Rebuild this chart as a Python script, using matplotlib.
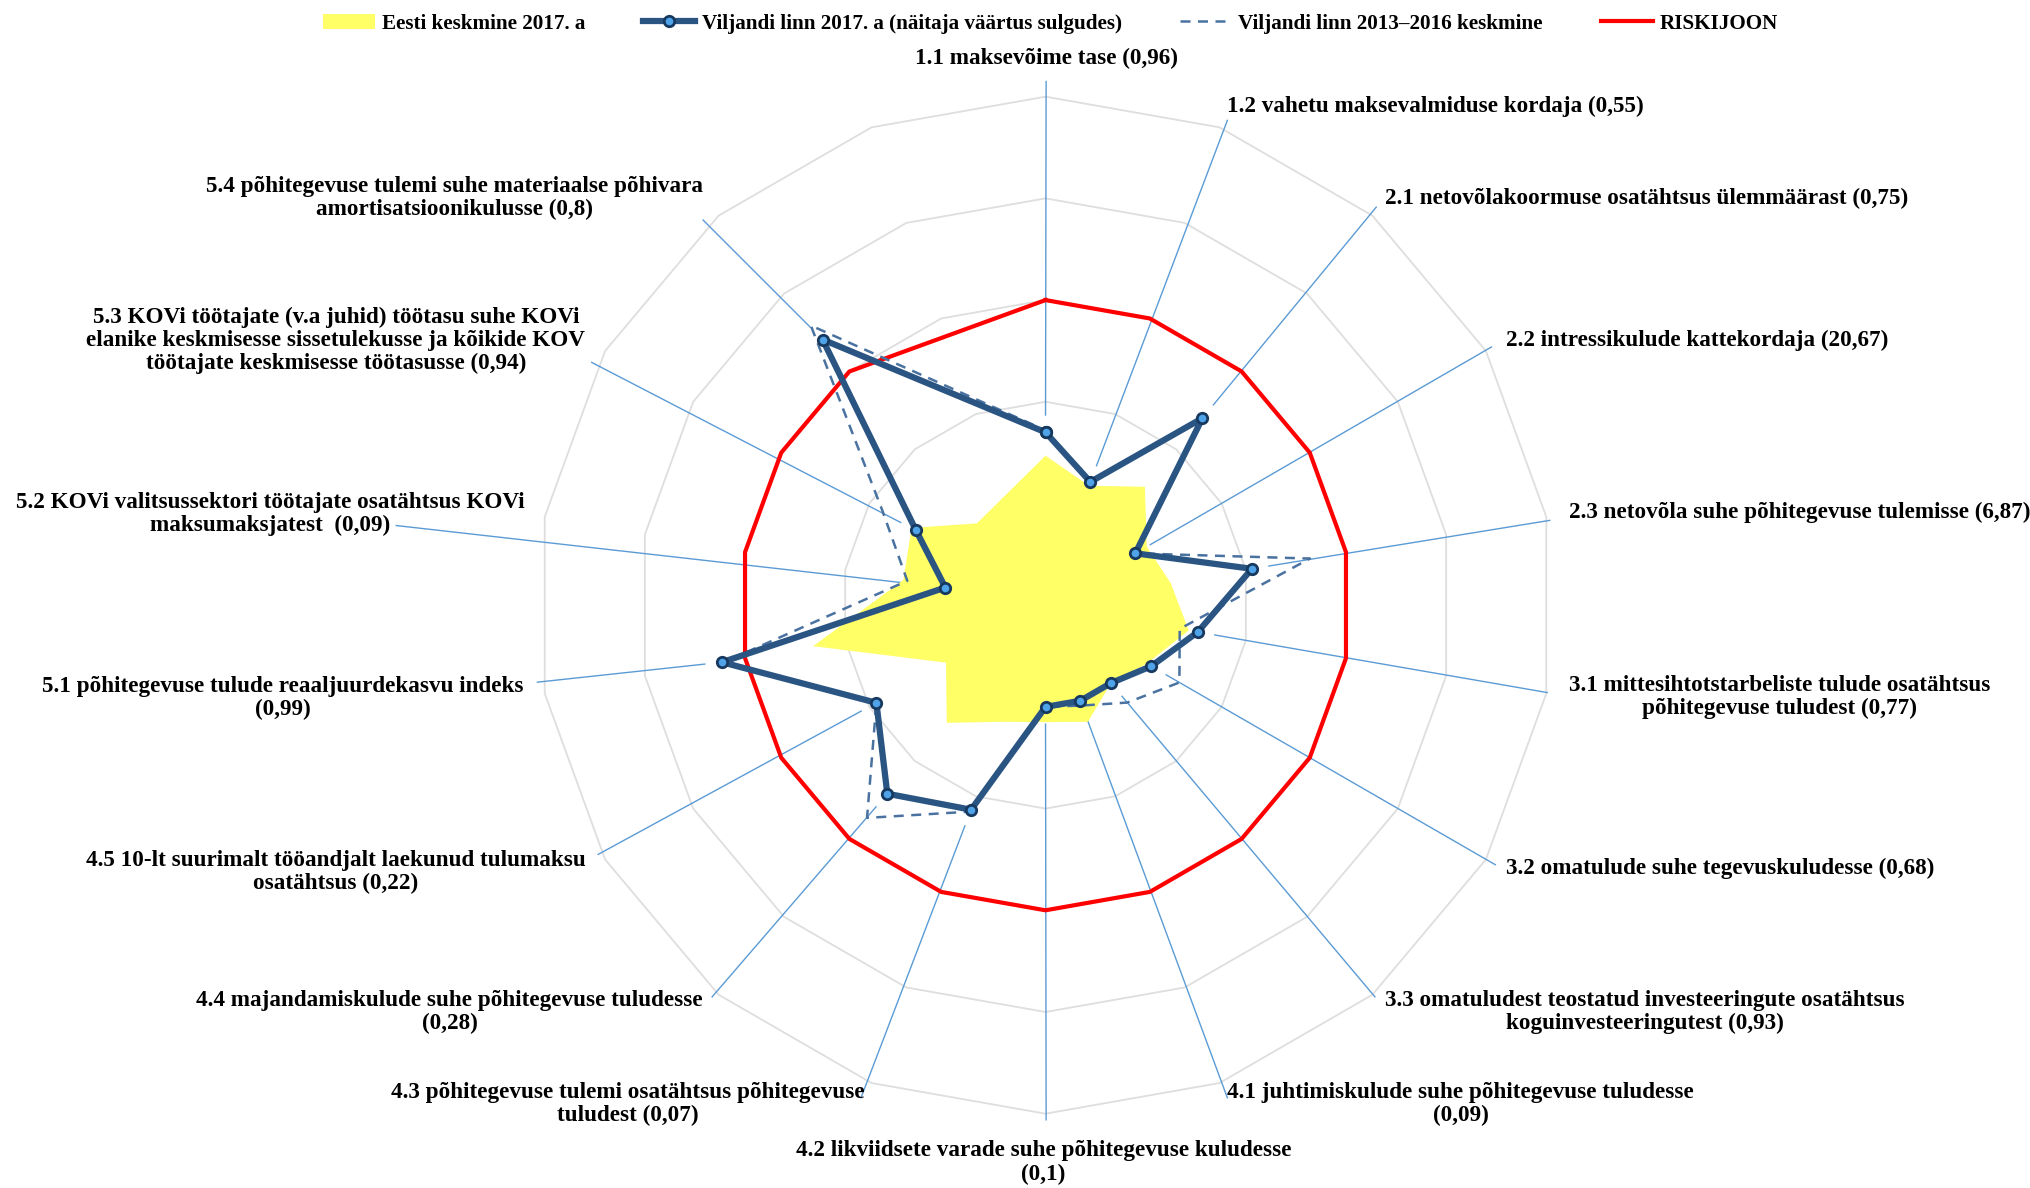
import numpy as np
import matplotlib
matplotlib.use("Agg")
import matplotlib.pyplot as plt
from matplotlib.patches import Patch
from matplotlib.lines import Line2D

plt.rcParams['font.family'] = ['Liberation Serif', 'DejaVu Serif']

# categories (18th slot is empty in the source chart)
labels = [
    "1.1 maksevõime tase (0,96)",
    "1.2 vahetu maksevalmiduse kordaja (0,55)",
    "2.1 netovõlakoormuse osatähtsus ülemmäärast (0,75)",
    "2.2 intressikulude kattekordaja (20,67)",
    "2.3 netovõla suhe põhitegevuse tulemisse (6,87)",
    "3.1 mittesihtotstarbeliste tulude osatähtsus\npõhitegevuse tuludest (0,77)",
    "3.2 omatulude suhe tegevuskuludesse (0,68)",
    "3.3 omatuludest teostatud investeeringute osatähtsus\nkoguinvesteeringutest (0,93)",
    "4.1 juhtimiskulude suhe põhitegevuse tuludesse\n(0,09)",
    "4.2 likviidsete varade suhe põhitegevuse kuludesse\n(0,1)",
    "4.3 põhitegevuse tulemi osatähtsus põhitegevuse\ntuludest (0,07)",
    "4.4 majandamiskulude suhe põhitegevuse tuludesse\n(0,28)",
    "4.5 10-lt suurimalt tööandjalt laekunud tulumaksu\nosatähtsus (0,22)",
    "5.1 põhitegevuse tulude reaaljuurdekasvu indeks\n(0,99)",
    "5.2 KOVi valitsussektori töötajate osatähtsus KOVi\nmaksumaksjatest  (0,09)",
    "5.3 KOVi töötajate (v.a juhid) töötasu suhe KOVi\nelanike keskmisesse sissetulekusse ja kõikide KOV\ntöötajate keskmisesse töötasusse (0,94)",
    "5.4 põhitegevuse tulemi suhe materiaalse põhivara\namortisatsioonikulusse (0,8)",
    "",
]

nan = np.nan
eesti_2017 = [1.47, 1.25, 1.52, 1.15, 1.25, 1.43, 1.15, 1.0, 1.22, 1.15, 1.22, 1.51, 1.13, 2.32, 1.42, 1.52, 1.05, nan]
viljandi_2017 = [1.70, 1.29, 2.40, 1.02, 2.06, 1.52, 1.20, 1.0, 1.0, 1.0, 2.14, 2.42, 1.92, 3.23, 1.0, 1.47, 3.41, nan]
viljandi_2013_2016 = [1.72, 1.29, 2.45, 1.02, 2.64, 1.34, 1.52, 1.25, 1.05, 1.0, 2.16, 2.73, 1.92, 3.20, 1.38, 1.85, 3.59, nan]
riskijoon = [3.0] * 17 + [nan]

legend_names = ["Eesti keskmine 2017. a",
                "Viljandi linn 2017. a (näitaja väärtus sulgudes)",
                "Viljandi linn 2013\u20132016 keskmine",
                "RISKIJOON"]

# label layout (chart units, one ring = 1)
label_pos = [(0.006, 5.378), (1.788, 4.907), (3.341, 4.003), (4.525, 2.603), (5.149, 0.910),
             (5.149, -0.904), (4.525, -2.590), (3.341, -3.997), (1.788, -4.901), (-0.019, -5.480),
             (-1.776, -4.901), (-3.367, -3.997), (-4.525, -2.622), (-5.136, -0.910), (-5.123, 0.897),
             (-4.525, 2.603), (-3.367, 4.003)]
label_ha = ['center', 'left', 'left', 'left', 'left', 'left', 'left', 'left', 'left', 'center',
            'right', 'right', 'right', 'right', 'right', 'right', 'right']
leader_end = [(0.006, 5.149), (1.788, 4.767), (3.252, 3.914), (4.385, 2.539), (4.958, 0.834),
              (4.933, -0.859), (4.423, -2.552), (3.239, -3.851), (1.788, -4.843), (0.006, -5.060),
              (-1.814, -4.843), (-3.278, -3.851), (-4.398, -2.450), (-4.996, -0.757), (-6.384, 0.783),
              (-4.462, 2.387), (-3.367, 3.787)]

n = len(labels)
theta = np.arange(n) * 2 * np.pi / n


def to_xy(vals):
    r = np.asarray(vals, float)
    ok = ~np.isnan(r)
    x = r[ok] * np.sin(theta[ok])
    y = r[ok] * np.cos(theta[ok])
    return np.append(x, x[0]), np.append(y, y[0])


fig = plt.figure(figsize=(20.3, 11.88), dpi=100)
ax = fig.add_axes([0, 0, 1, 1])
ax.set_xlim(-10.28, 9.68)
ax.set_ylim(-5.73, 5.95)
ax.set_aspect('equal')
ax.axis('off')

# grid rings
for lvl in range(1, 6):
    gx, gy = to_xy([lvl] * n)
    ax.plot(gx, gy, color='#dedede', lw=1.3, zorder=1)

# leader lines from data point to label
for i in range(len(label_pos)):
    px = viljandi_2017[i] * np.sin(theta[i])
    py = viljandi_2017[i] * np.cos(theta[i])
    ex, ey = leader_end[i]
    d = np.hypot(ex - px, ey - py)
    sx = px + 0.17 * (ex - px) / d
    sy = py + 0.17 * (ey - py) / d
    ax.plot([sx, ex], [sy, ey], color='#5b9bd5', lw=1.0, zorder=2)

# series
ex_, ey_ = to_xy(eesti_2017)
ax.fill(ex_, ey_, color='#ffff66', lw=0, zorder=3)
rx, ry = to_xy(riskijoon)
ax.plot(rx, ry, color='#ff0000', lw=3, zorder=4)
dx, dy = to_xy(viljandi_2013_2016)
ax.plot(dx, dy, color='#4a72a0', lw=1.8, ls=(0, (4, 3)), zorder=5)
vx, vy = to_xy(viljandi_2017)
ax.plot(vx, vy, color='#2a5583', lw=4.5, solid_joinstyle='round', marker='o', ms=7.5,
        mfc='#4fa3e8', mec='#17395f', mew=2, zorder=6)

# labels
for i in range(len(label_pos)):
    ax.text(label_pos[i][0], label_pos[i][1], labels[i], ha=label_ha[i], va='center',
            multialignment='center', fontsize=16.7, fontweight='bold', color='black',
            linespacing=1.12)

handles = [Patch(facecolor='#ffff66', edgecolor='none'),
           Line2D([], [], color='#2a5583', lw=4.5, marker='o', ms=7.5, mfc='#4fa3e8', mec='#17395f', mew=2),
           Line2D([], [], color='#4a72a0', lw=1.8, ls=(0, (4, 3))),
           Line2D([], [], color='#ff0000', lw=3)]
fig.legend(handles, legend_names, loc='center', bbox_to_anchor=(0.5175, 0.980), ncol=4, frameon=False,
           prop={'family': 'Liberation Serif', 'weight': 'bold', 'size': 15.2},
           handlelength=2.46, handletextpad=0.31, columnspacing=2.75)

fig.savefig("out.png", dpi=100)
